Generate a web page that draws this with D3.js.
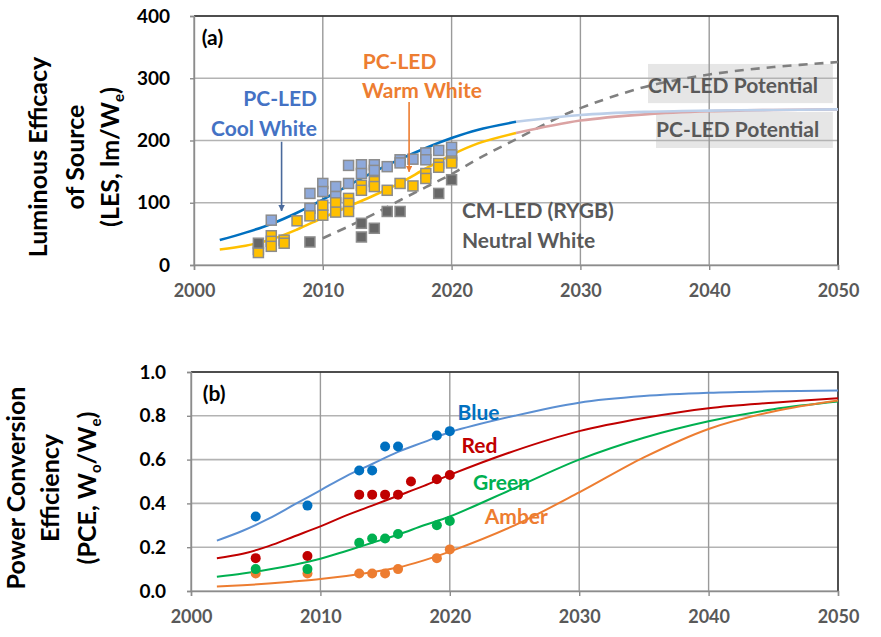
<!DOCTYPE html>
<html>
<head>
<meta charset="utf-8">
<script src="https://cdn.jsdelivr.net/npm/d3@7"></script>
<style>
  body { margin: 0; background: #fff; }
  svg { display: block; }
</style>
</head>
<body>
<div id="chart"></div>
<script>
// ---------- data ----------
const yearTicks = [2000, 2010, 2020, 2030, 2040, 2050];
const lesTicks = [0, 100, 200, 300, 400];
const pceTicks = [0, 0.2, 0.4, 0.6, 0.8, 1.0];

// (a) measured LES points [year, lm/W]
const coolWhitePts = [[2006,72],[2009,115],[2009,91],[2010,131],[2010,118],[2011,126],[2011,110],
  [2012,131],[2012,160],[2013,161],[2013,147],[2014,161],[2014,152],[2015,158],[2016,169],[2016,164],
  [2017,170],[2018,180],[2018,169],[2019,184],[2020,189],[2020,177]];
const warmWhitePts = [[2005,25],[2005,20],[2006,47],[2006,38],[2006,30],[2007,40],[2007,35],[2008,71],
  [2009,79],[2010,96],[2010,80],[2011,100],[2011,85],[2012,107],[2012,99],[2012,86],[2013,128],[2013,120],
  [2014,134],[2014,126],[2015,120],[2016,131],[2017,127],[2018,147],[2018,139],[2019,163],[2019,157],
  [2020,167],[2020,164]];
const cmLedPts = [[2005,35],[2009,37],[2013,67],[2013,45],[2014,59],[2015,86],[2016,86],[2019,115],[2020,137]];

// (a) fitted / projected curves
const coolFit = [[2002,40],[2004,52],[2006,66],[2008,84],[2010,105],[2012,128],[2014,150],[2016,170],
  [2018,188],[2020,204],[2022,217],[2025,230]];
const coolPotential = [[2025,230],[2030,241],[2035,246],[2040,248],[2045,249],[2050,250]];
const warmFit = [[2002,25],[2004,31],[2006,41],[2008,57],[2010,76],[2012,94],[2014,112],[2016,132],
  [2018,155],[2020,177],[2022,195],[2025,212]];
const warmPotential = [[2025,212],[2030,232],[2035,242],[2040,247],[2045,249],[2050,250]];
const cmFit = [[2010,43],[2012,62],[2014,82],[2016,104],[2018,125],[2020,146],[2022,170],[2025,202],
  [2028,234],[2030,252],[2035,286],[2040,306],[2045,318],[2050,326]];

// (b) measured PCE points
const blueYears = [2005, 2009, 2013, 2014, 2015, 2016, 2019, 2020];
const blueVals  = [0.34, 0.39, 0.55, 0.55, 0.66, 0.66, 0.71, 0.73];
const redYears  = [2005, 2009, 2013, 2014, 2015, 2016, 2017, 2019, 2020];
const redVals   = [0.15, 0.16, 0.44, 0.44, 0.44, 0.44, 0.50, 0.51, 0.53];
const greenYears = [2005, 2009, 2013, 2014, 2015, 2016, 2019, 2020];
const greenVals  = [0.10, 0.10, 0.22, 0.24, 0.24, 0.26, 0.30, 0.32];
const amberYears = [2005, 2009, 2013, 2014, 2015, 2016, 2019, 2020];
const amberVals  = [0.08, 0.08, 0.08, 0.08, 0.08, 0.10, 0.15, 0.19];

// (b) fitted curves
const fitYears = [2002, 2004, 2006, 2008, 2010, 2012, 2014, 2016, 2018, 2020, 2025, 2030, 2035, 2040, 2045, 2050];
const blueFit  = [0.23, 0.275, 0.33, 0.395, 0.46, 0.525, 0.58, 0.635, 0.68, 0.725, 0.80, 0.86, 0.89, 0.905, 0.912, 0.915];
const redFit   = [0.15, 0.17, 0.205, 0.25, 0.295, 0.345, 0.39, 0.435, 0.48, 0.53, 0.64, 0.73, 0.79, 0.835, 0.86, 0.88];
const greenFit = [0.065, 0.08, 0.098, 0.12, 0.147, 0.183, 0.22, 0.257, 0.30, 0.34, 0.47, 0.60, 0.70, 0.775, 0.83, 0.865];
const amberFit = [0.02, 0.026, 0.034, 0.044, 0.055, 0.069, 0.086, 0.107, 0.14, 0.18, 0.30, 0.45, 0.61, 0.74, 0.82, 0.87];

// ---------- setup ----------
const FONT = "Lato, 'Open Sans', sans-serif";
const svg = d3.select("#chart").append("svg")
  .attr("width", 881)
  .attr("height", 637)
  .style("font-family", FONT);

const defs = svg.append("defs");
function arrowMarker(id, color) {
  defs.append("marker")
    .attr("id", id)
    .attr("viewBox", "0 0 10 10")
    .attr("refX", 9).attr("refY", 5)
    .attr("markerWidth", 4).attr("markerHeight", 4)
    .attr("orient", "auto")
    .append("path")
    .attr("d", "M0,0 L10,5 L0,10 z")
    .attr("fill", color);
}
arrowMarker("arrBlue", "#4a6a9c");
arrowMarker("arrOrange", "#ED7D31");

const xT = d3.scaleLinear().domain([2000, 2050]).range([194, 838]);
const yT = d3.scaleLinear().domain([0, 400]).range([265, 16]);
const xB = d3.scaleLinear().domain([2000, 2050]).range([191, 838]);
const yB = d3.scaleLinear().domain([0, 1]).range([591, 372]);

function drawFrame(g, x, y, yTicks, yFmt, yPad) {
  // grid
  g.append("g").selectAll("line.h")
    .data(yTicks)
    .join("line")
    .attr("x1", x.range()[0]).attr("x2", x.range()[1])
    .attr("y1", d => y(d)).attr("y2", d => y(d))
    .attr("stroke", "#b3b3b3").attr("stroke-width", 1.6);
  g.append("g").selectAll("line.v")
    .data(yearTicks)
    .join("line")
    .attr("x1", d => x(d)).attr("x2", d => x(d))
    .attr("y1", y.range()[1]).attr("y2", y.range()[0])
    .attr("stroke", "#9a9a9a").attr("stroke-width", 1.4);

  // border: top and right dark
  g.append("path")
    .attr("d", `M${x.range()[0]},${y.range()[1]}H${x.range()[1]}V${y.range()[0]}`)
    .attr("fill", "none").attr("stroke", "#262626").attr("stroke-width", 1.4);

  const ax = g.append("g")
    .attr("transform", `translate(${x.range()[0]},0)`)
    .call(d3.axisLeft(y).tickValues(yTicks).tickFormat(yFmt).tickSize(4).tickPadding(yPad));
  ax.select(".domain").attr("stroke", "#8c8c8c").attr("stroke-width", 1.4);
  ax.selectAll(".tick line").attr("stroke", "#8c8c8c").attr("stroke-width", 1.4);
  ax.selectAll("text")
    .attr("fill", "#000").style("font-size", "19px").style("font-weight", 700)
    .style("font-family", FONT);

  const bx = g.append("g")
    .attr("transform", `translate(0,${y.range()[0]})`)
    .call(d3.axisBottom(x).tickValues(yearTicks).tickFormat(d3.format("d")).tickSize(5).tickPadding(14));
  bx.select(".domain").attr("stroke", "#8c8c8c").attr("stroke-width", 1.4);
  bx.selectAll(".tick line").attr("stroke", "#8c8c8c").attr("stroke-width", 1.4);
  bx.selectAll("text")
    .attr("fill", "#595959").style("font-size", "18px").style("font-weight", 700)
    .style("font-family", FONT);
}

function rotTitle(parts, bx, cy) {
  const t = svg.append("text")
    .attr("transform", `translate(${bx},${cy}) rotate(-90)`)
    .attr("text-anchor", "middle")
    .style("font-size", "25px").style("font-weight", 700).attr("fill", "#000");
  parts.forEach(p => {
    const ts = t.append("tspan").text(p.t);
    if (p.sub) ts.style("font-size", "15px").attr("dy", 5);
    else if (p.up) ts.attr("dy", -5);
  });
}

function label(x, y, txt, color, anchor) {
  return svg.append("text")
    .attr("x", x).attr("y", y)
    .attr("text-anchor", anchor || "start")
    .attr("fill", color)
    .style("font-size", "21px").style("font-weight", 700)
    .text(txt);
}

// ---------- panel (a) ----------
const gA = svg.append("g");

// shaded potential boxes (behind grid)
gA.append("rect")
  .attr("x", xT(2035.25)).attr("y", yT(323))
  .attr("width", xT(2049.6) - xT(2035.25)).attr("height", yT(260) - yT(323))
  .attr("fill", "#e6e6e6");
gA.append("rect")
  .attr("x", xT(2035.87)).attr("y", yT(246))
  .attr("width", xT(2049.6) - xT(2035.87)).attr("height", yT(188) - yT(246))
  .attr("fill", "#e6e6e6");

drawFrame(gA, xT, yT, lesTicks, d3.format("d"), 20);

const lineT = d3.line().x(d => xT(d[0])).y(d => yT(d[1])).curve(d3.curveCatmullRom.alpha(0.5));

gA.append("path").datum(cmFit).attr("d", lineT)
  .attr("fill", "none").attr("stroke", "#808080").attr("stroke-width", 2.6)
  .attr("stroke-dasharray", "9,7");
gA.append("path").datum(warmPotential).attr("d", lineT)
  .attr("fill", "none").attr("stroke", "#dba3a3").attr("stroke-width", 2.6);
gA.append("path").datum(coolPotential).attr("d", lineT)
  .attr("fill", "none").attr("stroke", "#bccfe9").attr("stroke-width", 2.6);
gA.append("path").datum(warmFit).attr("d", lineT)
  .attr("fill", "none").attr("stroke", "#FFC000").attr("stroke-width", 2.6);
gA.append("path").datum(coolFit).attr("d", lineT)
  .attr("fill", "none").attr("stroke", "#0070C0").attr("stroke-width", 2.6);

function squares(data, fill) {
  gA.append("g").selectAll("rect")
    .data(data)
    .join("rect")
    .attr("x", d => xT(d[0]) - 5).attr("y", d => yT(d[1]) - 5)
    .attr("width", 10).attr("height", 10)
    .attr("fill", fill).attr("stroke", "#8c8c8c").attr("stroke-width", 1.5);
}
squares(coolWhitePts, "#8EA9DB");
squares(warmWhitePts, "#FFC000");
squares(cmLedPts, "#676767");

// annotations (a)
label(xT(2000.6), yT(354), "(a)", "#000");
label(xT(2009.55), yT(256), "PC-LED", "#4472C4", "end");
label(xT(2009.55), yT(207), "Cool White", "#4472C4", "end");
label(xT(2013.1), yT(315.5), "PC-LED", "#ED7D31");
label(xT(2013.05), yT(269), "Warm White", "#ED7D31");
label(xT(2020.8), yT(76), "CM-LED (RYGB)", "#595959");
label(xT(2020.8), yT(28), "Neutral White", "#595959");
label(xT(2035.25), yT(277), "CM-LED Potential", "#595959");
label(xT(2035.87), yT(206), "PC-LED Potential", "#595959");

svg.append("line")
  .attr("x1", xT(2006.8)).attr("x2", xT(2006.8))
  .attr("y1", yT(198)).attr("y2", yT(87))
  .attr("stroke", "#4a6a9c").attr("stroke-width", 1.6)
  .attr("marker-end", "url(#arrBlue)");
svg.append("line")
  .attr("x1", xT(2016.7)).attr("x2", xT(2016.7))
  .attr("y1", yT(262)).attr("y2", yT(150))
  .attr("stroke", "#ED7D31").attr("stroke-width", 1.6)
  .attr("marker-end", "url(#arrOrange)");

rotTitle([{ t: "Luminous Efficacy" }], 47, 157);
rotTitle([{ t: "of Source" }], 84, 157);
rotTitle([{ t: "(LES, lm/W" }, { t: "e", sub: true }, { t: ")", up: true }], 119, 157);

// ---------- panel (b) ----------
const gB = svg.append("g");
drawFrame(gB, xB, yB, pceTicks, d3.format(".1f"), 21);

const lineB = d3.line().x(d => xB(d[0])).y(d => yB(d[1])).curve(d3.curveCatmullRom.alpha(0.5));
const series = [
  { fit: blueFit, yrs: blueYears, vals: blueVals, line: "#5b8fd2", dot: "#0070C0" },
  { fit: redFit, yrs: redYears, vals: redVals, line: "#C00000", dot: "#C00000" },
  { fit: greenFit, yrs: greenYears, vals: greenVals, line: "#00B050", dot: "#00B050" },
  { fit: amberFit, yrs: amberYears, vals: amberVals, line: "#ED7D31", dot: "#ED7D31" }
];
series.forEach(s => {
  gB.append("path").datum(fitYears.map((y, i) => [y, s.fit[i]])).attr("d", lineB)
    .attr("fill", "none").attr("stroke", s.line).attr("stroke-width", 2);
});
// amber first so the green/red dots sit on top like the original
[3, 2, 1, 0].forEach(i => {
  const s = series[i];
  gB.append("g").selectAll("circle")
    .data(s.yrs.map((y, j) => [y, s.vals[j]]))
    .join("circle")
    .attr("cx", d => xB(d[0])).attr("cy", d => yB(d[1]))
    .attr("r", 5).attr("fill", s.dot);
});

label(xB(2000.9), yB(0.868), "(b)", "#000");
label(xB(2020.6), yB(0.783), "Blue", "#0070C0");
label(xB(2020.9), yB(0.628), "Red", "#C00000");
label(xB(2021.8), yB(0.463), "Green", "#00B050");
label(xB(2022.7), yB(0.304), "Amber", "#ED7D31");

rotTitle([{ t: "Power Conversion" }], 25, 488);
rotTitle([{ t: "Efficiency" }], 59, 488);
rotTitle([{ t: "(PCE, W" }, { t: "o", sub: true }, { t: "/W", up: true }, { t: "e", sub: true }, { t: ")", up: true }], 96, 488);
</script>
</body>
</html>
